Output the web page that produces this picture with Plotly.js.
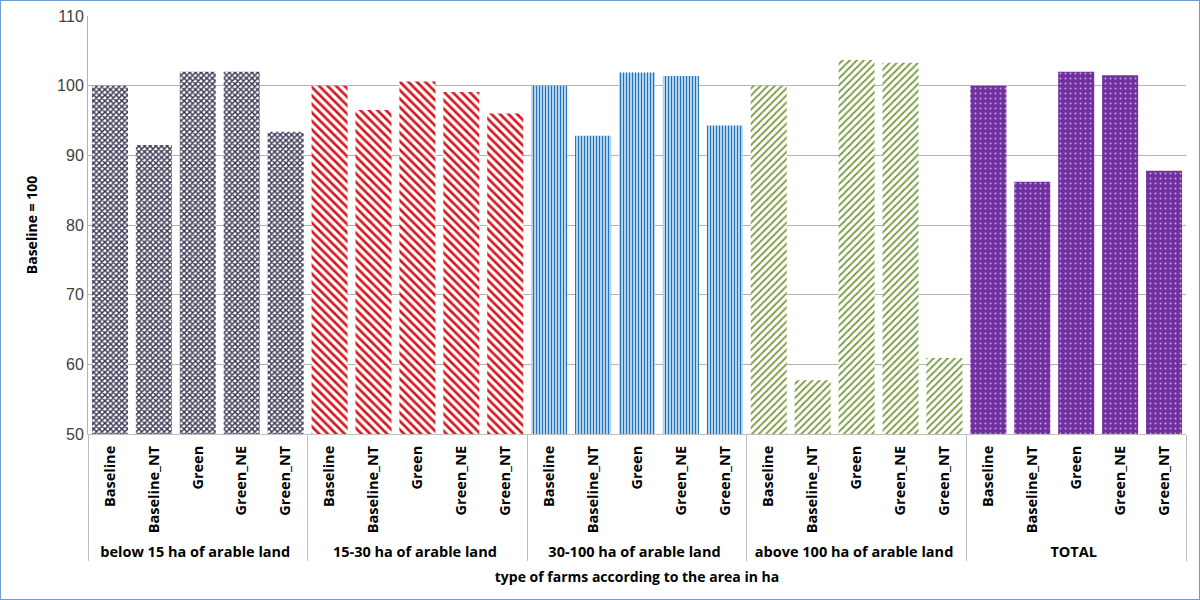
<!DOCTYPE html>
<html>
<head>
<meta charset="utf-8">
<script src="https://cdn.plot.ly/plotly-3.0.1.min.js"></script>
<style>
  body { margin: 0; background: #fff; }
  #plot { width: 1198px; height: 598px; border: 1px solid #6f9ad2; }
</style>
</head>
<body>
<div id="plot"></div>
<script>
// farm size groups and scenarios
var groups = ["below 15 ha of arable land", "15-30 ha of arable land", "30-100 ha of arable land",
              "above 100 ha of arable land", "TOTAL"];
var scenarios = ["Baseline", "Baseline_NT", "Green", "Green_NE", "Green_NT"];

// index values, Baseline = 100
var below15 = [100, 91.5, 102.0, 102.0, 93.4];
var from15to30 = [100, 96.5, 100.6, 99.1, 96.0];
var from30to100 = [100, 92.8, 101.9, 101.4, 94.3];
var above100 = [100, 57.7, 103.7, 103.3, 60.9];
var total = [100, 86.2, 102.0, 101.5, 87.8];

var values = [below15, from15to30, from30to100, above100, total];

// one pattern per group
var patterns = [
  {shape: "x", fgcolor: "#38314f", bgcolor: "#ffffff", size: 4, solidity: 0.6},
  {shape: "\\", fgcolor: "#d4181f", bgcolor: "#ffffff", size: 6, solidity: 0.45},
  {shape: "|", fgcolor: "#1b74bd", bgcolor: "#ffffff", size: 3, solidity: 0.55},
  {shape: "/", fgcolor: "#7a9a3e", bgcolor: "#ffffff", size: 5, solidity: 0.35},
  {shape: ".", fgcolor: "#c7a6e0", bgcolor: "#7030a0", size: 5, solidity: 0.12}
];

var data = groups.map(function (g, i) {
  return {
    x: [scenarios.map(function () { return g; }), scenarios],
    y: values[i],
    type: "bar",
    width: 0.82,
    marker: {color: patterns[i].bgcolor, pattern: patterns[i], line: {width: 0}},
    hoverinfo: "x+y"
  };
});

var layout = {
  width: 1198,
  height: 598,
  margin: {l: 87, r: 13, t: 15, b: 165},
  showlegend: false,
  barmode: "overlay",
  paper_bgcolor: "#ffffff",
  plot_bgcolor: "#ffffff",
  font: {family: "'Open Sans', sans-serif", color: "#000000"},
  xaxis: {
    type: "multicategory",
    tickangle: -90,
    tickfont: {size: 14.5, weight: "bold", color: "#000000"},
    ticklabelstandoff: 5,
    showline: true,
    linecolor: "#bfbfbf",
    showdividers: true,
    dividercolor: "#bfbfbf",
    dividerwidth: 1,
    title: {text: "type of farms according to the area in ha", font: {size: 14, weight: "bold"}, standoff: 12}
  },
  yaxis: {
    range: [50, 110],
    dtick: 10,
    showgrid: true,
    gridcolor: "#b3b3b3",
    showline: true,
    linecolor: "#b3b3b3",
    ticks: "",
    tickfont: {size: 16, color: "#404040", family: "Liberation Sans, Arial, sans-serif"},
    zeroline: false,
    title: {text: "Baseline = 100", font: {size: 14, weight: "bold"}, standoff: 16}
  }
};

Plotly.newPlot("plot", data, layout, {displayModeBar: false});
</script>
</body>
</html>
